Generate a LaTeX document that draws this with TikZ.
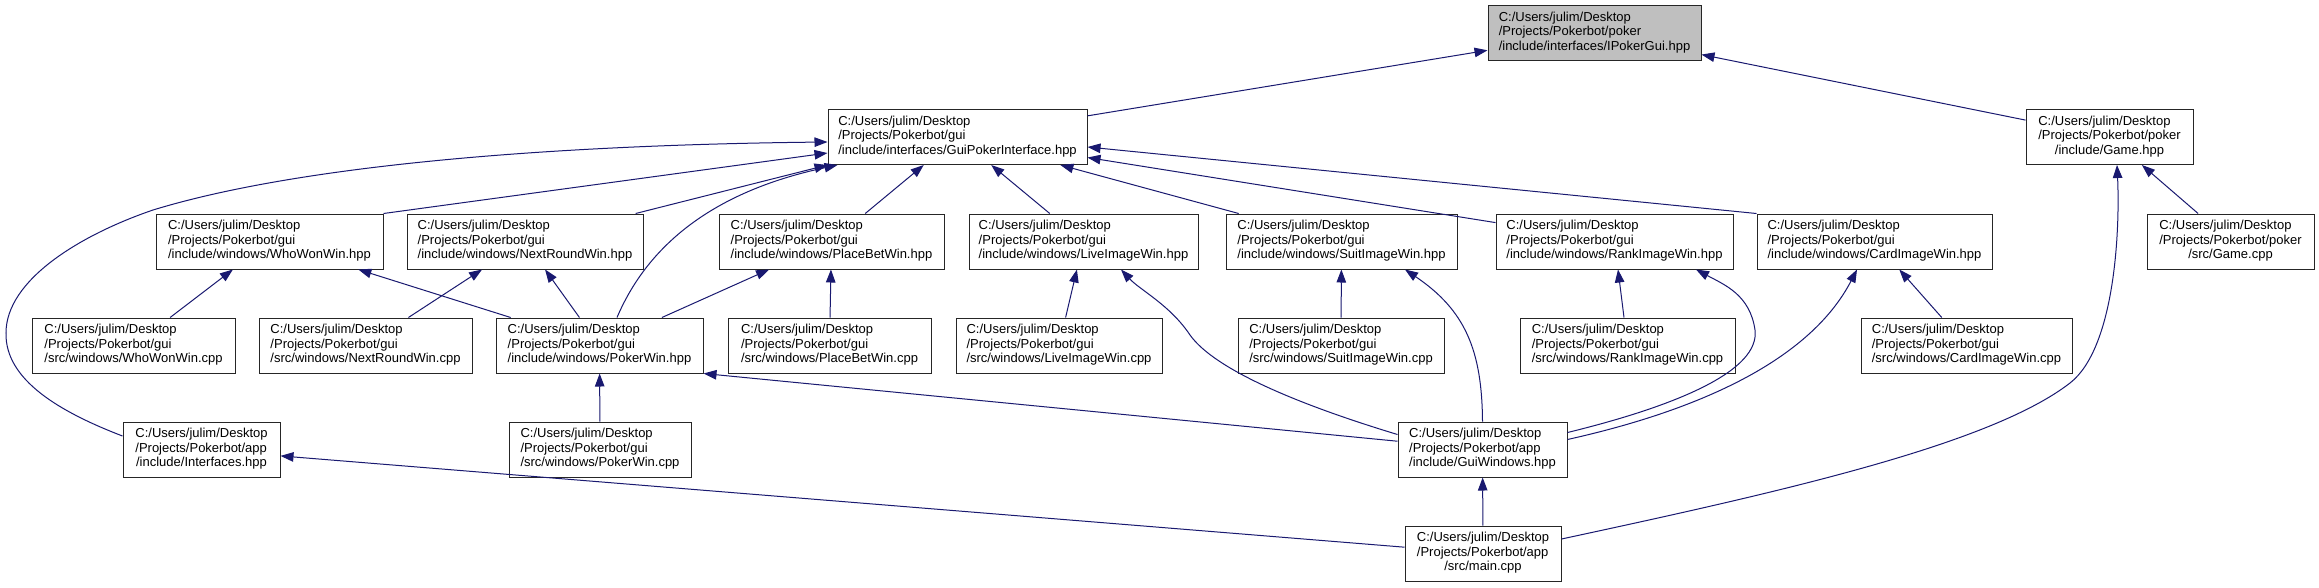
\documentclass[tikz,border=0pt]{standalone}
\usepackage{fontspec}
\setmainfont{Liberation Sans}
\usetikzlibrary{arrows.meta}
\definecolor{edgeblue}{HTML}{191970}
\definecolor{rootgray}{HTML}{BFBFBF}
\newcommand\dpath[2]{\begin{tabular}{@{}l@{}}C:/Users/julim/Desktop\\#1\\\multicolumn{1}{@{}c@{}}{#2}\end{tabular}}

\begin{document}
\begin{tikzpicture}[x=1pt, y=-1pt,
    srcbox/.style={draw=black!85, line width=1pt, fill=white, inner sep=0pt,
                   minimum height=55pt, minimum width=#1,
                   font=\fontsize{13}{14.5}\selectfont},
    dep/.style={-{Triangle[length=13pt,width=9.5pt]}, line width=1pt, color=edgeblue}
  ]
    \path[use as bounding box, fill=white] (0,0) rectangle (2319,587);

    % top rows
    \node[srcbox=213pt, fill=rootgray] (ipoker) at (1594.5,33) {\dpath{/Projects/Pokerbot/poker}{/include/interfaces/IPokerGui.hpp}};
    \node[srcbox=259pt] (gui)     at (957.5,137)  {\dpath{/Projects/Pokerbot/gui}{/include/interfaces/GuiPokerInterface.hpp}};
    \node[srcbox=167pt] (gamehpp) at (2109.5,137) {\dpath{/Projects/Pokerbot/poker}{/include/Game.hpp}};

    \node[srcbox=227pt] (whowonh) at (269.5,241.5)  {\dpath{/Projects/Pokerbot/gui}{/include/windows/WhoWonWin.hpp}};
    \node[srcbox=236pt] (nextrh)  at (525,241.5)    {\dpath{/Projects/Pokerbot/gui}{/include/windows/NextRoundWin.hpp}};
    \node[srcbox=225pt] (placeh)  at (831.5,241.5)  {\dpath{/Projects/Pokerbot/gui}{/include/windows/PlaceBetWin.hpp}};
    \node[srcbox=229pt] (liveh)   at (1083.5,241.5) {\dpath{/Projects/Pokerbot/gui}{/include/windows/LiveImageWin.hpp}};
    \node[srcbox=231pt] (suith)   at (1341.5,241.5) {\dpath{/Projects/Pokerbot/gui}{/include/windows/SuitImageWin.hpp}};
    \node[srcbox=237pt] (rankh)   at (1614.5,241.5) {\dpath{/Projects/Pokerbot/gui}{/include/windows/RankImageWin.hpp}};
    \node[srcbox=235pt] (cardh)   at (1874.5,241.5) {\dpath{/Projects/Pokerbot/gui}{/include/windows/CardImageWin.hpp}};
    \node[srcbox=167pt] (gamecpp) at (2230.5,241.5) {\dpath{/Projects/Pokerbot/poker}{/src/Game.cpp}};

    % lower rows
    \node[srcbox=203pt] (whowonc) at (133.5,345.5)  {\dpath{/Projects/Pokerbot/gui}{/src/windows/WhoWonWin.cpp}};
    \node[srcbox=213pt] (nextrc)  at (365.5,345.5)  {\dpath{/Projects/Pokerbot/gui}{/src/windows/NextRoundWin.cpp}};
    \node[srcbox=207pt] (pokerh)  at (599.5,345.5)  {\dpath{/Projects/Pokerbot/gui}{/include/windows/PokerWin.hpp}};
    \node[srcbox=203pt] (placec)  at (829.5,345.5)  {\dpath{/Projects/Pokerbot/gui}{/src/windows/PlaceBetWin.cpp}};
    \node[srcbox=206pt] (livec)   at (1059,345.5)   {\dpath{/Projects/Pokerbot/gui}{/src/windows/LiveImageWin.cpp}};
    \node[srcbox=206pt] (suitc)   at (1341,345.5)   {\dpath{/Projects/Pokerbot/gui}{/src/windows/SuitImageWin.cpp}};
    \node[srcbox=215pt] (rankc)   at (1627.5,345.5) {\dpath{/Projects/Pokerbot/gui}{/src/windows/RankImageWin.cpp}};
    \node[srcbox=211pt] (cardc)   at (1966.5,345.5) {\dpath{/Projects/Pokerbot/gui}{/src/windows/CardImageWin.cpp}};

    \node[srcbox=157pt] (interf)  at (201.5,449.5)  {\dpath{/Projects/Pokerbot/app}{/include/Interfaces.hpp}};
    \node[srcbox=182pt] (pokerc)  at (600,449.5)    {\dpath{/Projects/Pokerbot/gui}{/src/windows/PokerWin.cpp}};
    \node[srcbox=169pt] (guiwin)  at (1482.5,449.5) {\dpath{/Projects/Pokerbot/app}{/include/GuiWindows.hpp}};
    \node[srcbox=156pt] (maincpp) at (1483,553.5)   {\dpath{/Projects/Pokerbot/app}{/src/main.cpp}};

    % include edges
    \draw[dep] (gui) -- (ipoker);
    \draw[dep] (gamehpp) -- (ipoker);
    \draw[dep] ([yshift=13.5pt]interf.west) .. controls (60,412) and (5,380) .. (6,333)
               .. controls (6,280) and (80,235) .. (153,210)
               .. controls (300,165) and (550,145) .. ([yshift=-5pt]gui.west);
    \draw[dep] (whowonh.north east) -- ([yshift=-16pt]gui.west);
    \draw[dep] (nextrh) -- (gui.south west);
    \draw[dep] ([xshift=17.5pt]pokerh.north) .. controls (650,240) and (720,190) .. ([xshift=10pt]gui.south west);
    \draw[dep] (placeh) -- (gui);
    \draw[dep] (liveh) -- (gui);
    \draw[dep] (suith) -- (gui);
    \draw[dep] (rankh) -- (gui);
    \draw[dep] (cardh.north west) -- ([yshift=-10pt]gui.east);
    \draw[dep] ([yshift=14.5pt]maincpp.east) .. controls (1780,492) and (1990,445) .. (2070,383)
               .. controls (2115,348) and (2120,230) .. ([xshift=7.5pt]gamehpp.south);
    \draw[dep] (gamecpp) -- (gamehpp);

    \draw[dep] (whowonc) -- (whowonh);
    \draw[dep] (pokerh) -- (whowonh);
    \draw[dep] (nextrc) -- (nextrh);
    \draw[dep] (pokerh) -- (nextrh);
    \draw[dep] (pokerh) -- (placeh);
    \draw[dep] (placec) -- (placeh);
    \draw[dep] (livec) -- (liveh);
    \draw[dep] ([yshift=15pt]guiwin.west) .. controls (1300,405) and (1215,370) .. (1190,335)
               .. controls (1170,305) and (1140,290) .. ([xshift=37.5pt]liveh.south);
    \draw[dep] (suitc) -- (suith);
    \draw[dep] (guiwin.north) .. controls (1482,350) and (1465,310) .. ([xshift=63.5pt]suith.south);
    \draw[dep] (rankc) -- (rankh);
    \draw[dep] ([yshift=17pt]guiwin.east) .. controls (1680,405) and (1760,370) .. (1755,330)
               .. controls (1750,295) and (1725,285) .. ([xshift=81.5pt]rankh.south);
    \draw[dep] ([yshift=10pt]guiwin.east) .. controls (1700,410) and (1810,360) .. ([xshift=-17.5pt]cardh.south);
    \draw[dep] (cardc) -- (cardh);

    \draw[dep] (pokerc) -- (pokerh);
    \draw[dep] (guiwin) -- (pokerh.south east);
    \draw[dep] (maincpp) -- (interf);
    \draw[dep] (maincpp) -- (guiwin);
  \end{tikzpicture}
\end{document}
